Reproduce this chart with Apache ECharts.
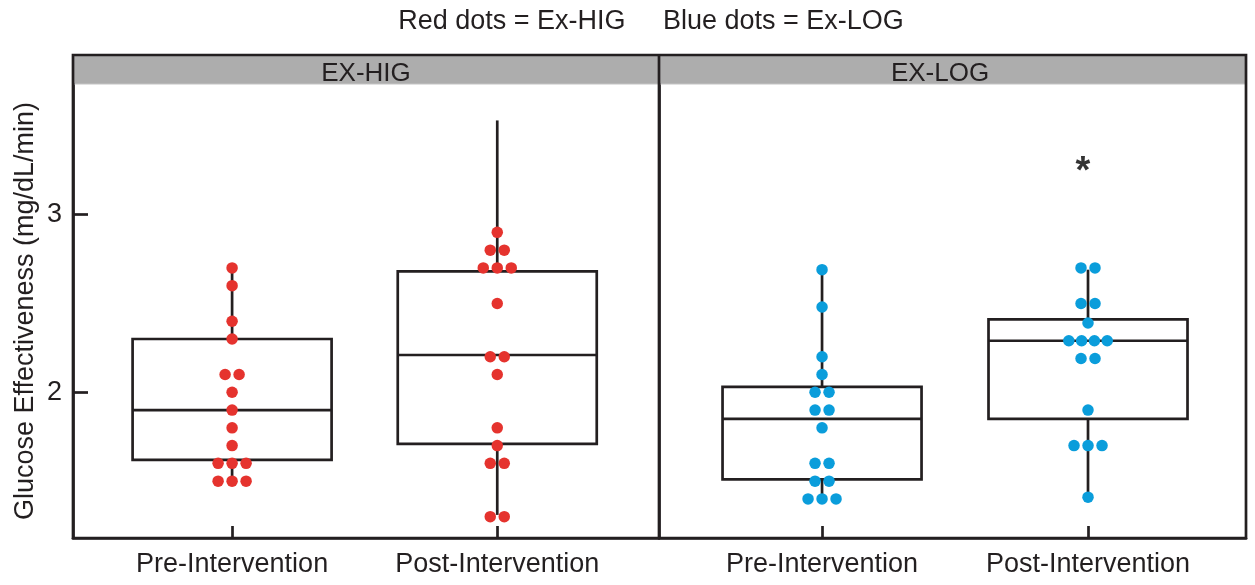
<!DOCTYPE html>
<html>
<head>
<meta charset="utf-8">
<script src="https://cdn.jsdelivr.net/npm/echarts@6/dist/echarts.min.js"></script>
<style>
html,body{margin:0;padding:0;background:#fff;}
#chart{width:1255px;height:585px;}
</style>
</head>
<body>
<div id="chart"></div>
<script>
// ---- data ----
const categories = ['Pre-Intervention', 'Post-Intervention'];
const panels = ['EX-HIG', 'EX-LOG'];
const titleText = 'Red dots = Ex-HIG     Blue dots = Ex-LOG';
const yAxisName = 'Glucose Effectiveness (mg/dL/min)';
const yTicks = [2, 3];

// individual participants
const exHigPre  = [2.7, 2.6, 2.4, 2.3, 2.1, 2.1, 2.0, 1.9, 1.8, 1.7, 1.6, 1.6, 1.6, 1.5, 1.5, 1.5];
const exHigPost = [2.9, 2.8, 2.8, 2.7, 2.7, 2.7, 2.5, 2.2, 2.2, 2.1, 1.8, 1.7, 1.6, 1.6, 1.3, 1.3];
const exLogPre  = [2.69, 2.48, 2.2, 2.1, 2.0, 2.0, 1.9, 1.9, 1.8, 1.6, 1.6, 1.5, 1.5, 1.4, 1.4, 1.4];
const exLogPost = [2.7, 2.7, 2.5, 2.5, 2.39, 2.29, 2.29, 2.29, 2.29, 2.19, 2.19, 1.9, 1.7, 1.7, 1.7, 1.41];

// box statistics: [whisker low, Q1, median, Q3, whisker high]
const exHigPreBox  = [1.5, 1.62, 1.9, 2.3, 2.7];
const exHigPostBox = [1.31, 1.71, 2.21, 2.68, 3.53];
const exLogPreBox  = [1.40, 1.51, 1.85, 2.03, 2.69];
const exLogPostBox = [1.41, 1.85, 2.29, 2.41, 2.69];

// significance marker (Ex-LOG, post)
const starPoint = [2, 3.25];

// ---- styling ----
const INK = '#231f20';
const RED = '#e5332e';
const BLUE = '#0a9ddb';
const FONT = "'Liberation Sans', Arial, Helvetica, sans-serif";
const FS = 27;
const LW = 2.7;

function swarm(values, x) {
  const counts = {}, seen = {};
  values.forEach(v => { counts[v] = (counts[v] || 0) + 1; });
  return values.map(v => {
    const n = counts[v];
    const i = seen[v] = (seen[v] === undefined ? 0 : seen[v] + 1);
    const sp = n >= 4 ? 12.8 : 14;
    return { value: [x, v], symbolOffset: [(i - (n - 1) / 2) * sp, 0] };
  });
}

function renderBox(params, api) {
  const x = api.value(0);
  const lo = api.value(1), q1 = api.value(2), med = api.value(3), q3 = api.value(4), hi = api.value(5);
  const c = v => api.coord([x, v]);
  const pLo = c(lo), pQ1 = c(q1), pMed = c(med), pQ3 = c(q3), pHi = c(hi);
  const cx = pMed[0], hw = 99.5;
  const style = { stroke: INK, lineWidth: LW, fill: 'none' };
  return {
    type: 'group',
    children: [
      { type: 'line', shape: { x1: cx, y1: pHi[1], x2: cx, y2: pQ3[1] }, style },
      { type: 'line', shape: { x1: cx, y1: pQ1[1], x2: cx, y2: pLo[1] }, style },
      { type: 'rect', shape: { x: cx - hw, y: pQ3[1], width: 2 * hw, height: pQ1[1] - pQ3[1] }, style },
      { type: 'line', shape: { x1: cx - hw, y1: pMed[1], x2: cx + hw, y2: pMed[1] }, style }
    ]
  };
}

function xAxisFor(gi, min, max) {
  return {
    type: 'value', gridIndex: gi, min: min, max: max,
    axisLine: { show: true, lineStyle: { color: INK, width: LW } },
    axisTick: { show: true, inside: true, length: 12, customValues: [1, 2], lineStyle: { color: INK, width: LW } },
    axisLabel: { show: true, customValues: [1, 2], margin: 13, color: INK, fontSize: FS, fontFamily: FONT,
      formatter: v => categories[Math.round(v) - 1] },
    splitLine: { show: false }
  };
}

const yMin = 1.18, yMax = 3.735;

const option = {
  animation: false,
  backgroundColor: '#fff',
  textStyle: { fontFamily: FONT },
  grid: [
    { left: 73, top: 84, width: 586, height: 454 },
    { left: 659, top: 84, width: 587, height: 454 }
  ],
  xAxis: [xAxisFor(0, 0.4, 2.61), xAxisFor(1, 0.387, 2.594)],
  yAxis: [
    {
      type: 'value', gridIndex: 0, min: yMin, max: yMax,
      name: yAxisName, nameLocation: 'middle', nameGap: 34,
      nameTextStyle: { color: INK, fontSize: FS, fontFamily: FONT },
      axisLine: { show: true, lineStyle: { color: INK, width: LW } },
      axisTick: { show: true, inside: true, length: 15, customValues: yTicks, lineStyle: { color: INK, width: LW } },
      axisLabel: { show: true, customValues: yTicks, margin: 11, color: INK, fontSize: FS, fontFamily: FONT },
      splitLine: { show: false }
    },
    {
      type: 'value', gridIndex: 1, min: yMin, max: yMax,
      axisLine: { show: true, lineStyle: { color: INK, width: LW } },
      axisTick: { show: false }, axisLabel: { show: false }, splitLine: { show: false }
    }
  ],
  graphic: [
    { type: 'rect', z: 0, shape: { x: 73, y: 55, width: 1173, height: 29 }, style: { fill: '#adadad' } },
    { type: 'line', z: 1, shape: { x1: 73, y1: 84, x2: 1246, y2: 84 }, style: { stroke: '#c4c4c4', lineWidth: 1 } },
    { type: 'rect', z: 1, shape: { x: 73, y: 55, width: 1173, height: 483 }, style: { fill: 'none', stroke: INK, lineWidth: LW } },
    { type: 'line', z: 1, shape: { x1: 659, y1: 55, x2: 659, y2: 538 }, style: { stroke: INK, lineWidth: LW } },
    { type: 'text', z: 2, x: 366, y: 73.5, style: { text: panels[0], fill: INK, font: '26px ' + FONT, align: 'center', verticalAlign: 'middle' } },
    { type: 'text', z: 2, x: 940, y: 73.5, style: { text: panels[1], fill: INK, font: '26px ' + FONT, align: 'center', verticalAlign: 'middle' } },
    { type: 'text', z: 2, x: 651, y: 22, style: { text: titleText, fill: INK, font: FS + 'px ' + FONT, align: 'center', verticalAlign: 'middle' } }
  ],
  series: [
    { type: 'custom', name: 'EX-HIG boxes', xAxisIndex: 0, yAxisIndex: 0, renderItem: renderBox,
      encode: { x: 0, y: [1, 2, 3, 4, 5] },
      data: [[1].concat(exHigPreBox), [2].concat(exHigPostBox)] },
    { type: 'custom', name: 'EX-LOG boxes', xAxisIndex: 1, yAxisIndex: 1, renderItem: renderBox,
      encode: { x: 0, y: [1, 2, 3, 4, 5] },
      data: [[1].concat(exLogPreBox), [2].concat(exLogPostBox)] },
    { type: 'scatter', name: 'Ex-HIG', xAxisIndex: 0, yAxisIndex: 0, symbolSize: 11.5,
      itemStyle: { color: RED, opacity: 1 },
      data: swarm(exHigPre, 1).concat(swarm(exHigPost, 2)) },
    { type: 'scatter', name: 'Ex-LOG', xAxisIndex: 1, yAxisIndex: 1, symbolSize: 11.5,
      itemStyle: { color: BLUE, opacity: 1 },
      data: swarm(exLogPre, 1).concat(swarm(exLogPost, 2)) },
    { type: 'scatter', name: 'significance', xAxisIndex: 1, yAxisIndex: 1, symbolSize: 1,
      itemStyle: { color: 'rgba(0,0,0,0)' },
      label: { show: true, position: 'inside', formatter: '*', color: '#000', fontSize: 38, fontWeight: 'bold', fontFamily: FONT, offset: [-5, 2] },
      data: [starPoint] }
  ]
};

const chart = echarts.init(document.getElementById('chart'), null, { renderer: 'canvas' });
chart.setOption(option);
</script>
</body>
</html>
